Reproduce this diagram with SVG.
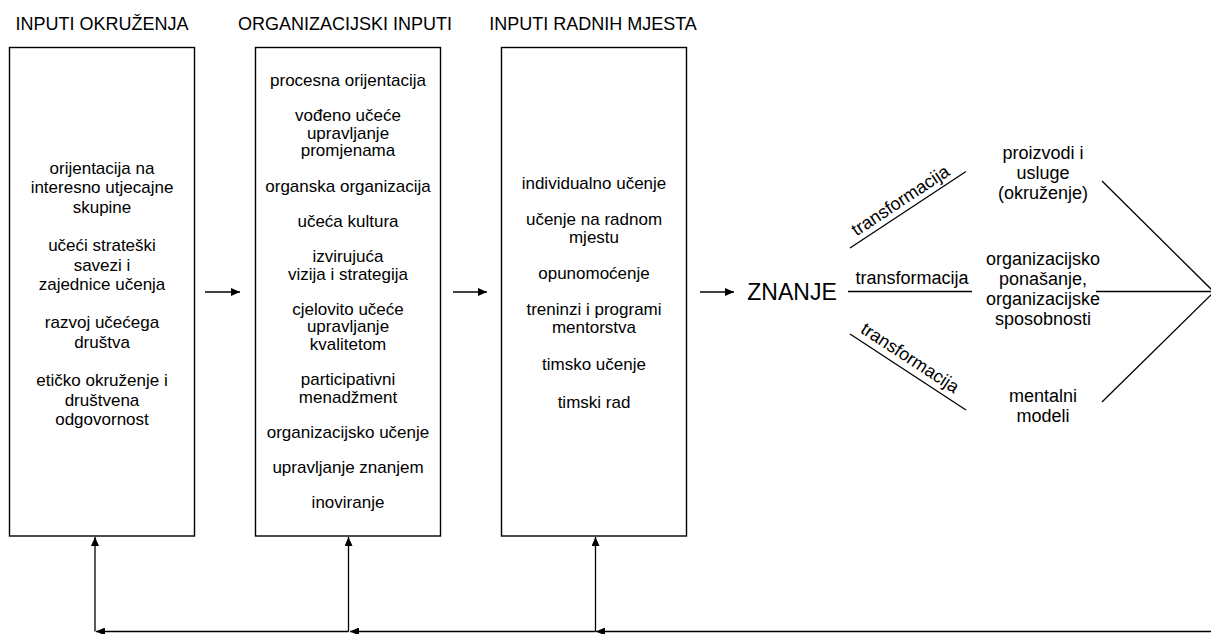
<svg xmlns="http://www.w3.org/2000/svg" width="1211" height="634" viewBox="0 0 1211 634">
<style>
text{font-family:"Liberation Sans",Arial,Helvetica,sans-serif;fill:#000}
.h{font-size:18px;text-anchor:middle}
.t{font-size:17px;text-anchor:middle}
.r{font-size:18px;text-anchor:middle}
.box{fill:#fff;stroke:#000;stroke-width:1.4}
.ln{stroke:#000;stroke-width:1.3;fill:none}
</style>
<defs>
<marker id="ar" markerUnits="userSpaceOnUse" markerWidth="10" markerHeight="8" refX="9" refY="4" orient="auto">
<path d="M0,0 L9,4 L0,8 z" fill="#000"/>
</marker>
</defs>
<rect width="1211" height="634" fill="#fff"/>

<g id="head1"><text class="h" x="102" y="29.5">INPUTI OKRUŽENJA</text></g>
<g id="head2"><text class="h" x="345" y="29.5">ORGANIZACIJSKI INPUTI</text></g>
<g id="head3"><text class="h" x="593" y="29.5">INPUTI RADNIH MJESTA</text></g>

<g id="box1">
<rect class="box" x="9.5" y="47.5" width="185" height="488.5"/>
<text class="t" x="102" y="174">orijentacija na</text>
<text class="t" x="102" y="193.3">interesno utjecajne</text>
<text class="t" x="102" y="212.6">skupine</text>
<text class="t" x="102" y="251.2">učeći strateški</text>
<text class="t" x="102" y="270.5">savezi i</text>
<text class="t" x="102" y="289.8">zajednice učenja</text>
<text class="t" x="102" y="328.4">razvoj učećega</text>
<text class="t" x="102" y="347.7">društva</text>
<text class="t" x="102" y="386.3">etičko okruženje i</text>
<text class="t" x="102" y="405.6">društvena</text>
<text class="t" x="102" y="424.9">odgovornost</text>
</g>

<g id="box2">
<rect class="box" x="255.5" y="47.5" width="185" height="488.5"/>
<text class="t" x="348" y="86">procesna orijentacija</text>
<text class="t" x="348" y="121.2">vođeno učeće</text>
<text class="t" x="348" y="138.8">upravljanje</text>
<text class="t" x="348" y="156.4">promjenama</text>
<text class="t" x="348" y="191.6">organska organizacija</text>
<text class="t" x="348" y="226.8">učeća kultura</text>
<text class="t" x="348" y="262">izvirujuća</text>
<text class="t" x="348" y="279.6">vizija i strategija</text>
<text class="t" x="348" y="314.8">cjelovito učeće</text>
<text class="t" x="348" y="332.4">upravljanje</text>
<text class="t" x="348" y="350">kvalitetom</text>
<text class="t" x="348" y="385.2">participativni</text>
<text class="t" x="348" y="402.8">menadžment</text>
<text class="t" x="348" y="438">organizacijsko učenje</text>
<text class="t" x="348" y="473.2">upravljanje znanjem</text>
<text class="t" x="348" y="508.4">inoviranje</text>
</g>

<g id="box3">
<rect class="box" x="501.5" y="47.5" width="185" height="488.5"/>
<text class="t" x="594" y="189">individualno učenje</text>
<text class="t" x="594" y="225">učenje na radnom</text>
<text class="t" x="594" y="243">mjestu</text>
<text class="t" x="594" y="279">opunomoćenje</text>
<text class="t" x="594" y="315">treninzi i programi</text>
<text class="t" x="594" y="333">mentorstva</text>
<text class="t" x="594" y="370">timsko učenje</text>
<text class="t" x="594" y="408">timski rad</text>
</g>

<g id="znanje"><text x="792" y="300" style="font-size:23px;text-anchor:middle">ZNANJE</text></g>

<g id="out1">
<text class="r" x="1043" y="159">proizvodi i</text>
<text class="r" x="1043" y="178.5">usluge</text>
<text class="r" x="1043" y="198.5">(okruženje)</text>
</g>
<g id="out2">
<text class="r" x="1043" y="265">organizacijsko</text>
<text class="r" x="1043" y="285">ponašanje,</text>
<text class="r" x="1043" y="305">organizacijske</text>
<text class="r" x="1043" y="325">sposobnosti</text>
</g>
<g id="out3">
<text class="r" x="1043" y="402">mentalni</text>
<text class="r" x="1043" y="421.5">modeli</text>
</g>

<g id="connectors">
<line class="ln" x1="205" y1="292" x2="240" y2="292" marker-end="url(#ar)"/>
<line class="ln" x1="453" y1="292" x2="487" y2="292" marker-end="url(#ar)"/>
<line class="ln" x1="700" y1="292" x2="734" y2="292" marker-end="url(#ar)"/>

<line class="ln" x1="850" y1="248" x2="966" y2="171.5"/>
<line class="ln" x1="848" y1="291.5" x2="972" y2="291.5"/>
<line class="ln" x1="850" y1="334" x2="966" y2="410"/>
<g transform="translate(907,210.5) rotate(-33.4)"><text class="r" x="0" y="-6">transformacija</text></g>
<text class="r" x="912" y="284">transformacija</text>
<g transform="translate(903,368.7) rotate(33.2)"><text class="r" x="0" y="-7">transformacija</text></g>

<line class="ln" x1="1102" y1="181" x2="1214" y2="292"/>
<line class="ln" x1="1096" y1="291.5" x2="1214" y2="291.5"/>
<line class="ln" x1="1102" y1="402" x2="1214" y2="292"/>

<line class="ln" x1="1214" y1="631.5" x2="596" y2="631.5" marker-end="url(#ar)"/>
<line class="ln" x1="595.5" y1="631.5" x2="350" y2="631.5" marker-end="url(#ar)"/>
<line class="ln" x1="348.5" y1="631.5" x2="96" y2="631.5" marker-end="url(#ar)"/>
<line class="ln" x1="95" y1="631.5" x2="95" y2="537" marker-end="url(#ar)"/>
<line class="ln" x1="348.5" y1="631.5" x2="348.5" y2="537" marker-end="url(#ar)"/>
<line class="ln" x1="595.5" y1="631.5" x2="595.5" y2="537" marker-end="url(#ar)"/>
</g>
</svg>
